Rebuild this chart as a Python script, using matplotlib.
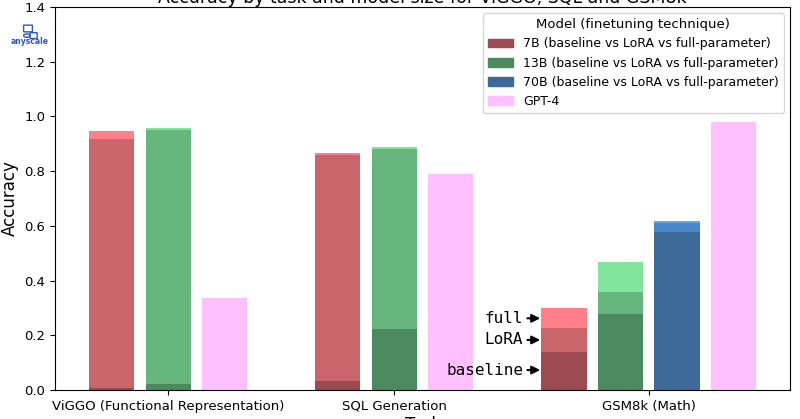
"""Accuracy by task and model size (ViGGO, SQL, GSM8k)."""
import matplotlib
matplotlib.use("Agg")
import matplotlib.pyplot as plt
from matplotlib.patches import FancyBboxPatch, Circle

TASKS = ["ViGGO (Functional Representation)", "SQL Generation", "GSM8k (Math)"]

# per model: values for each task (None = not evaluated)
BASELINE_7B = [0.007, 0.034, 0.139]
LORA_7B = [0.917, 0.860, 0.227]
FULL_7B = [0.947, 0.865, 0.299]

BASELINE_13B = [0.022, 0.222, 0.279]
LORA_13B = [0.952, 0.880, 0.358]
FULL_13B = [0.956, 0.890, 0.469]

BASELINE_70B = [None, None, 0.579]
LORA_70B = [None, None, 0.609]
FULL_70B = [None, None, 0.618]

GPT4 = [0.335, 0.788, 0.981]

MODELS = ["7B", "13B", "70B"]
COLORS = {
    "7B": ("#9b4a52", "#ca656c", "#ff7f8a"),
    "13B": ("#4b8a5f", "#67b67d", "#80e49b"),
    "70B": ("#3e6a99", "#4a87c9", "#5ba9f4"),
}
GPT4_COLOR = "#ffc0ff"
DATA = {
    "7B": (BASELINE_7B, LORA_7B, FULL_7B),
    "13B": (BASELINE_13B, LORA_13B, FULL_13B),
    "70B": (BASELINE_70B, LORA_70B, FULL_70B),
}

fig = plt.figure(figsize=(8.0, 4.19), dpi=100)
ax = fig.add_axes([0.069, 0.0692, 0.9185, 0.9141])

width = 0.8
pos = 0
tick_pos = []
for t in range(len(TASKS)):
    xs = []
    for m in MODELS:
        base, lora, full = DATA[m]
        if base[t] is None:
            continue
        cb, cl, cf = COLORS[m]
        ax.bar(pos, full[t], width, color=cf)
        ax.bar(pos, lora[t], width, color=cl)
        ax.bar(pos, base[t], width, color=cb)
        xs.append(pos)
        if m == "7B" and t == 2:
            x7 = pos
        pos += 1
    ax.bar(pos, GPT4[t], width, color=GPT4_COLOR)
    xs.append(pos)
    pos += 2
    tick_pos.append(sum(xs) / len(xs))

# annotations on the GSM8k 7B bar
for lab, yv in [("full", 0.262), ("LoRA", 0.183), ("baseline", 0.073)]:
    ax.annotate(lab, xy=(x7 - 0.42, yv), xytext=(x7 - 0.72, yv),
                ha="right", va="center", family="DejaVu Sans Mono", fontsize=11.5,
                arrowprops=dict(arrowstyle="-|>", color="black", lw=1.5,
                                shrinkA=1, shrinkB=0, mutation_scale=12))

ax.set_xlim(-1, 12)
ax.set_ylim(0, 1.4)
ax.set_xticks(tick_pos, labels=TASKS, fontsize=9.5)
ax.set_yticks([0, 0.2, 0.4, 0.6, 0.8, 1.0, 1.2, 1.4])
ax.set_yticklabels(["0.0", "0.2", "0.4", "0.6", "0.8", "1.0", "1.2", "1.4"], fontsize=9.5)
ax.set_ylabel("Accuracy", fontsize=12)
ax.set_xlabel("Task", fontsize=12, labelpad=2)
ax.set_title("Accuracy by task and model size for ViGGO, SQL and GSM8k", fontsize=12.5, pad=2)

handles = [plt.Rectangle((0, 0), 1, 1, color=COLORS[m][0]) for m in MODELS]
handles.append(plt.Rectangle((0, 0), 1, 1, color=GPT4_COLOR))
labels = [f"{m} (baseline vs LoRA vs full-parameter)" for m in MODELS] + ["GPT-4"]
ax.legend(handles, labels, title="Model (finetuning technique)", loc="upper right",
          fontsize=9, title_fontsize=9.5)

# anyscale logo
blue = "#2f55c6"
fig.text(0.0375, 0.9, "anyscale", color=blue, fontsize=5.5, fontweight="bold",
         ha="center", va="center")
fig.patches.append(FancyBboxPatch((0.0305, 0.925), 0.009, 0.014, boxstyle="round,pad=0.001",
                                  transform=fig.transFigure, fill=False, ec=blue, lw=1))
fig.patches.append(Circle((0.0335, 0.915), 0.004, transform=fig.transFigure,
                          fill=False, ec=blue, lw=1))
fig.patches.append(FancyBboxPatch((0.0385, 0.909), 0.007, 0.012, boxstyle="round,pad=0.001",
                                  transform=fig.transFigure, fill=False, ec=blue, lw=1))

fig.savefig("out.png", dpi=100)
